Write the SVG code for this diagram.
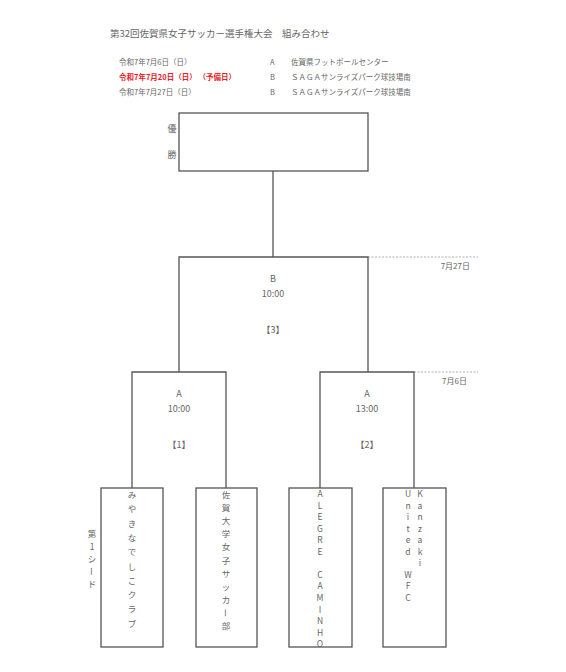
<svg xmlns="http://www.w3.org/2000/svg" width="566" height="672" viewBox="0 0 566 672">
<style>
  text { font-family: "Noto Sans CJK JP", "Noto Sans", sans-serif; fill: #666; }
  .hd { font-size: 7.5px; }
  .red { fill: #e8231f; font-weight: bold; }
  .box { fill: none; stroke: #555; stroke-width: 1.3; }
  .dash { fill: none; stroke: #999; stroke-width: 0.8; stroke-dasharray: 2 1.5; }
  .lbl { font-size: 9px; text-anchor: middle; }
  .v { font-size: 8.5px; text-anchor: middle; }
  .d { font-size: 8px; text-anchor: end; }
</style>
<rect width="566" height="672" fill="#fff"/>

<g id="header">
  <text x="110" y="37" font-size="9.5">第32回佐賀県女子サッカー選手権大会　組み合わせ</text>
  <text class="hd" x="119" y="65">令和7年7月6日（日）</text>
  <text class="hd red" x="119" y="80">令和7年7月20日（日） （予備日）</text>
  <text class="hd" x="119" y="95">令和7年7月27日（日）</text>
  <text class="hd" x="270" y="65">A</text>
  <text class="hd" x="270" y="80">B</text>
  <text class="hd" x="270" y="95">B</text>
  <text class="hd" x="291" y="65">佐賀県フットボールセンター</text>
  <text class="hd" x="291" y="80">ＳＡＧＡサンライズパーク球技場南</text>
  <text class="hd" x="291" y="95">ＳＡＧＡサンライズパーク球技場南</text>
</g>

<g id="final">
  <rect class="box" x="179" y="113" width="189" height="58"/>
  <text class="lbl" x="172" y="132" font-size="7.5">優</text>
  <text class="lbl" x="172" y="158" font-size="7.5">勝</text>
</g>

<g id="connectors">
  <line class="box" x1="273" y1="171" x2="273" y2="257"/>
  <line class="dash" x1="368" y1="257" x2="478" y2="257"/>
  <line class="dash" x1="414" y1="372" x2="478" y2="372"/>
</g>

<g id="dates">
  <text class="d" x="470" y="269">7月27日</text>
  <text class="d" x="467" y="384">7月6日</text>
</g>

<g id="match3">
  <path class="box" d="M179,372 V257 H368 V372"/>
  <text class="lbl" x="273" y="282">B</text>
  <text class="lbl" x="273" y="297">10:00</text>
  <text class="lbl" x="273" y="333">【3】</text>
</g>

<g id="match1">
  <path class="box" d="M132,488 V372 H226 V488"/>
  <text class="lbl" x="179" y="397">A</text>
  <text class="lbl" x="179" y="412">10:00</text>
  <text class="lbl" x="179" y="448">【1】</text>
</g>

<g id="match2">
  <path class="box" d="M320,488 V372 H414 V488"/>
  <text class="lbl" x="367" y="397">A</text>
  <text class="lbl" x="367" y="412">13:00</text>
  <text class="lbl" x="367" y="448">【2】</text>
</g>

<g id="seed">
  <text class="v" x="92" y="537" font-size="7.5"><tspan x="92">第</tspan><tspan x="92" dy="12.5">1</tspan><tspan x="92" dy="12.5">シ</tspan></text>
  <text class="v" font-size="7.5" transform="translate(92,571.5) rotate(90)" dominant-baseline="central">ー</text>
  <text class="v" x="92" y="587" font-size="7.5">ド</text>
</g>

<g id="team1">
  <rect class="box" x="101" y="488" width="62" height="159"/>
  <text class="v" x="132" y="498"><tspan x="132">み</tspan><tspan x="132" dy="14.3">や</tspan><tspan x="132" dy="14.3">き</tspan><tspan x="132" dy="14.3">な</tspan><tspan x="132" dy="14.3">で</tspan><tspan x="132" dy="14.3">し</tspan><tspan x="132" dy="14.3">こ</tspan><tspan x="132" dy="14.3">ク</tspan><tspan x="132" dy="14.3">ラ</tspan><tspan x="132" dy="14.3">ブ</tspan></text>
</g>

<g id="team2">
  <rect class="box" x="196" y="488" width="61" height="159"/>
  <text class="v" x="226" y="498"><tspan x="226">佐</tspan><tspan x="226" dy="13.1">賀</tspan><tspan x="226" dy="13.1">大</tspan><tspan x="226" dy="13.1">学</tspan><tspan x="226" dy="13.1">女</tspan><tspan x="226" dy="13.1">子</tspan><tspan x="226" dy="13.1">サ</tspan><tspan x="226" dy="13.1">ッ</tspan><tspan x="226" dy="13.1">カ</tspan></text>
  <text class="v" transform="translate(226,612.9) rotate(90)" dominant-baseline="central">ー</text>
  <text class="v" x="226" y="629">部</text>
</g>

<g id="team3">
  <rect class="box" x="289" y="488" width="63" height="159"/>
  <text class="v" x="320" y="497" font-size="8"><tspan x="320">A</tspan><tspan x="320" dy="11.55">L</tspan><tspan x="320" dy="11.55">E</tspan><tspan x="320" dy="11.55">G</tspan><tspan x="320" dy="11.55">R</tspan><tspan x="320" dy="11.55">E</tspan><tspan x="320" dy="23.1">C</tspan><tspan x="320" dy="11.55">A</tspan><tspan x="320" dy="11.55">M</tspan><tspan x="320" dy="11.55">I</tspan><tspan x="320" dy="11.55">N</tspan><tspan x="320" dy="11.55">H</tspan><tspan x="320" dy="11.55">O</tspan></text>
</g>

<g id="team4">
  <rect class="box" x="383" y="488" width="63" height="159"/>
  <text class="v" x="408" y="497" font-size="8"><tspan x="408">U</tspan><tspan x="408" dy="11.55">n</tspan><tspan x="408" dy="11.55">i</tspan><tspan x="408" dy="11.55">t</tspan><tspan x="408" dy="11.55">e</tspan><tspan x="408" dy="11.55">d</tspan><tspan x="408" dy="23.1">W</tspan><tspan x="408" dy="11.55">F</tspan><tspan x="408" dy="11.55">C</tspan></text>
  <text class="v" x="420" y="497" font-size="8"><tspan x="420">K</tspan><tspan x="420" dy="11.55">a</tspan><tspan x="420" dy="11.55">n</tspan><tspan x="420" dy="11.55">z</tspan><tspan x="420" dy="11.55">a</tspan><tspan x="420" dy="11.55">k</tspan><tspan x="420" dy="11.55">i</tspan></text>
</g>
</svg>
